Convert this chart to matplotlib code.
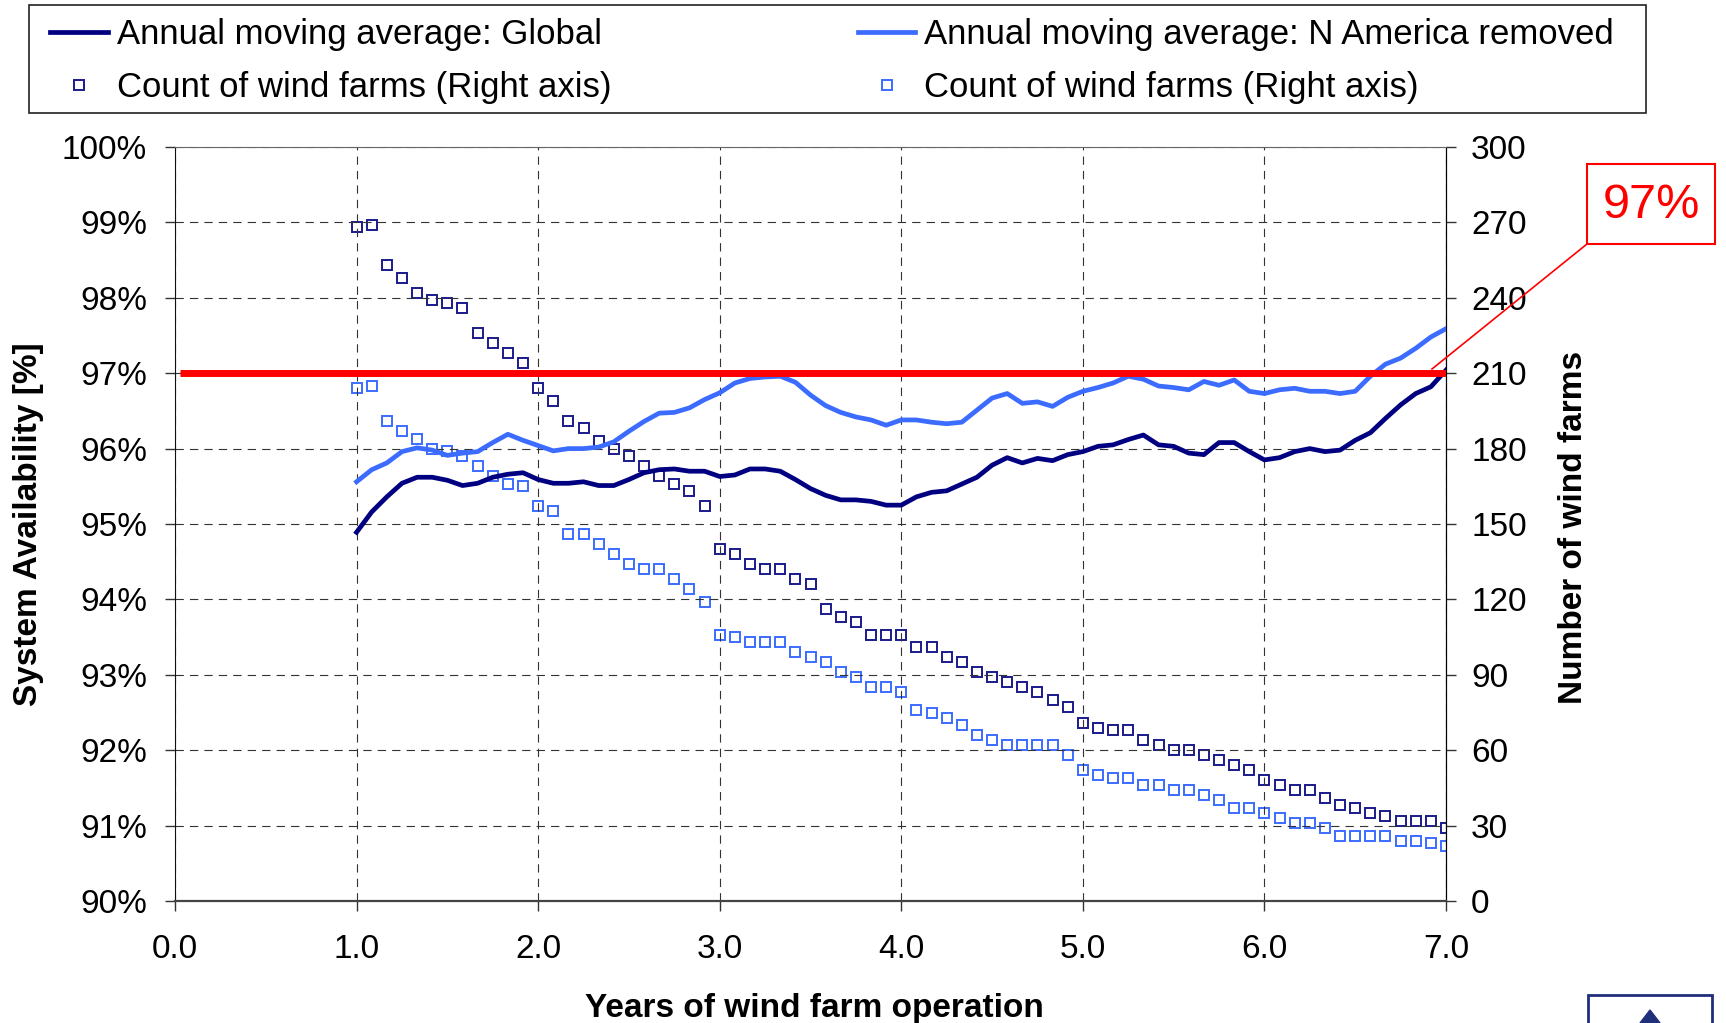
import numpy as np
import matplotlib
matplotlib.use("Agg")
import matplotlib.pyplot as plt
from matplotlib.lines import Line2D
from matplotlib.patches import Rectangle, Polygon

plt.rcParams["font.family"] = ["Liberation Sans", "DejaVu Sans"]

# months of wind farm operation (1 to 7 years, monthly steps)
months = np.arange(12, 85)

avail_global = [94.89, 95.16, 95.36, 95.54, 95.62, 95.62, 95.58, 95.51, 95.54, 95.62, 95.66, 95.68,
                95.59, 95.54, 95.54, 95.56, 95.51, 95.51, 95.59, 95.68, 95.72, 95.73, 95.70, 95.70,
                95.63, 95.65, 95.73, 95.73, 95.70, 95.59, 95.47, 95.38, 95.32, 95.32, 95.30, 95.25,
                95.25, 95.36, 95.42, 95.44, 95.53, 95.62, 95.78, 95.88, 95.81, 95.87, 95.84, 95.92,
                95.96, 96.03, 96.05, 96.12, 96.18, 96.05, 96.03, 95.94, 95.92, 96.08, 96.08, 95.96,
                95.85, 95.88, 95.96, 96.00, 95.96, 95.98, 96.11, 96.21, 96.40, 96.58, 96.73, 96.82,
                97.04]

avail_no_na = [95.56, 95.72, 95.81, 95.96, 96.01, 95.98, 95.91, 95.94, 95.96, 96.08, 96.19, 96.11,
               96.04, 95.97, 96.00, 96.00, 96.02, 96.09, 96.23, 96.36, 96.47, 96.48, 96.54, 96.65,
               96.74, 96.87, 96.93, 96.95, 96.96, 96.88, 96.71, 96.57, 96.48, 96.42, 96.38, 96.31,
               96.38, 96.38, 96.35, 96.33, 96.35, 96.51, 96.67, 96.73, 96.60, 96.62, 96.56, 96.68,
               96.76, 96.81, 96.87, 96.96, 96.92, 96.83, 96.81, 96.78, 96.89, 96.84, 96.91, 96.76,
               96.73, 96.78, 96.80, 96.76, 96.76, 96.73, 96.76, 96.96, 97.12, 97.20, 97.33, 97.48,
               97.59]

count_global = [268, 269, 253, 248, 242, 239, 238, 236, 226, 222, 218, 214,
                204, 199, 191, 188, 183, 180, 177, 173, 169, 166, 163, 157,
                140, 138, 134, 132, 132, 128, 126, 116, 113, 111, 106, 106,
                106, 101, 101, 97, 95, 91, 89, 87, 85, 83, 80, 77,
                71, 69, 68, 68, 64, 62, 60, 60, 58, 56, 54, 52,
                48, 46, 44, 44, 41, 38, 37, 35, 34, 32, 32, 32,
                29]

count_no_na = [204, 205, 191, 187, 184, 180, 179, 177, 173, 169, 166, 165,
               157, 155, 146, 146, 142, 138, 134, 132, 132, 128, 124, 119,
               106, 105, 103, 103, 103, 99, 97, 95, 91, 89, 85, 85,
               83, 76, 75, 73, 70, 66, 64, 62, 62, 62, 62, 58,
               52, 50, 49, 49, 46, 46, 44, 44, 42, 40, 37, 37,
               35, 33, 31, 31, 29, 26, 26, 26, 26, 24, 24, 23,
               22]

target = 97.0

x_ticks = [0, 1, 2, 3, 4, 5, 6, 7]
y_ticks = [90, 91, 92, 93, 94, 95, 96, 97, 98, 99, 100]
y2_ticks = [0, 30, 60, 90, 120, 150, 180, 210, 240, 270, 300]

navy = "#000080"
navy_mk = "#1a1a8c"
blue = "#3b6cff"
W, H = 1726, 1023

years = months / 12.0

fig = plt.figure(figsize=(W / 100, H / 100), dpi=100)
ax = fig.add_axes([175 / W, 1 - 901 / H, 1271 / W, 754 / H])
ax2 = ax.twinx()

# counts on right axis
ax2.plot(years, count_global, ls="none", marker="s", ms=7, mfc="white", mec=navy_mk, mew=1.4)
ax2.plot(years, count_no_na, ls="none", marker="s", ms=7, mfc="white", mec=blue, mew=1.4)
ax2.set_ylim(0, 300)
ax2.set_yticks(y2_ticks)

# availability lines on left axis (drawn on top)
ax.set_zorder(ax2.get_zorder() + 1)
ax.patch.set_visible(False)
ax.plot(years, avail_no_na, color=blue, lw=3.4, zorder=3)
ax.plot(years, avail_global, color=navy, lw=3.4, zorder=3)
ax.plot([0.03, 7.0], [target, target], color="#ff0000", lw=5, zorder=4, solid_capstyle="butt")

ax.set_xlim(0, 7)
ax.set_ylim(90, 100)
ax.set_xticks(x_ticks)
ax.set_xticklabels(["%.1f" % v for v in x_ticks])
ax.set_yticks(y_ticks)
ax.set_yticklabels(["%d%%" % v for v in y_ticks])

for a in (ax, ax2):
    a.tick_params(labelsize=24, length=7, width=1, direction="out", color="#333333")
ax.tick_params(axis="y", pad=13)
ax.tick_params(axis="x", pad=17)
ax2.tick_params(axis="y", pad=11)

ax.grid(True, ls=(0, (7.5, 5.5)), color="#333333", lw=0.8)

ax.spines["left"].set_color("#111111")
ax.spines["bottom"].set_color("#444444")
ax.spines["bottom"].set_linewidth(1.6)
ax.spines["top"].set_color("#666666")
for s in ax2.spines.values():
    s.set_visible(False)
ax2.spines["right"].set_visible(True)
ax2.spines["right"].set_color("#111111")

ax.set_ylabel("System Availability [%]", fontsize=24, fontweight="bold")
ax.yaxis.label.set_va("center")
ax.yaxis.set_label_coords(-0.1155, 0.5)
ax2.set_ylabel("Number of wind farms", fontsize=24, fontweight="bold")
ax2.yaxis.label.set_va("center")
ax2.yaxis.set_label_coords(1.1, 0.495)
ax.set_xlabel("Years of wind farm operation", fontsize=24, fontweight="bold")
ax.xaxis.label.set_va("center")
ax.xaxis.set_label_coords(0.503, -0.142)

# legend (frame drawn separately)
handles = [
    Line2D([], [], color=navy, lw=3.4),
    Line2D([], [], ls="none", marker="s", ms=7, mfc="white", mec=navy_mk, mew=1.4),
    Line2D([], [], color=blue, lw=3.4),
    Line2D([], [], ls="none", marker="s", ms=7, mfc="white", mec=blue, mew=1.4),
]
labels = [
    "Annual moving average: Global",
    "Count of wind farms (Right axis)",
    "Annual moving average: N America removed",
    "Count of wind farms (Right axis)",
]
fig.legend(handles, labels, loc="upper left", bbox_to_anchor=(50 / W, 1 - 18 / H),
           ncol=2, fontsize=25, frameon=False,
           handlelength=1.66, handletextpad=0.26, columnspacing=7.1,
           labelspacing=0.58, borderpad=0, borderaxespad=0)
fig.patches.append(Rectangle((29 / W, 1 - 113 / H), 1617 / W, 107.5 / H, transform=fig.transFigure,
                             fill=False, edgecolor="#222222", lw=1.2))

# 97% callout
fig.text(1651 / W, 1 - 206 / H, "97%", color="#ff0000", fontsize=35, ha="center", va="center")
fig.patches.append(Rectangle((1587 / W, 1 - 244 / H), 128 / W, 80 / H, transform=fig.transFigure,
                             fill=False, edgecolor="#ff0000", lw=1.5))
fig.add_artist(Line2D([1587 / W, 1432 / W], [1 - 244 / H, 1 - 369 / H], transform=fig.transFigure,
                      color="#ff0000", lw=1.2))

# partial navigation button at bottom right
fig.patches.append(Rectangle((1588 / W, -0.01), 124 / W, (1023 - 995) / H + 0.01,
                             transform=fig.transFigure, fill=False, edgecolor="#1f2f7a", lw=2))
fig.patches.append(Polygon([[1650 / W, 1 - 1010 / H], [1640 / W, 0], [1660 / W, 0]],
                           transform=fig.transFigure, color="#1f2f7a"))

fig.savefig("out.png", dpi=100)
